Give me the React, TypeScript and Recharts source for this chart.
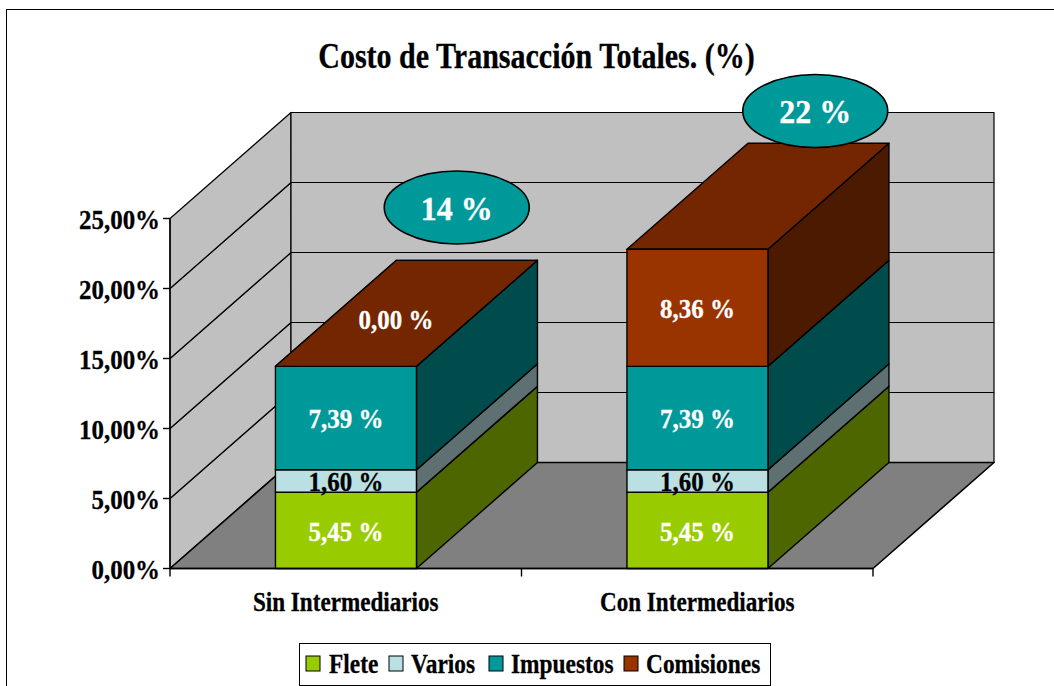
import { BarChart, Bar, XAxis, YAxis, Legend, LabelList, ReferenceArea, ReferenceDot } from "recharts";

const categories = ["Sin Intermediarios", "Con Intermediarios"];
const flete = [5.45, 5.45];
const varios = [1.6, 1.6];
const impuestos = [7.39, 7.39];
const comisiones = [0, 8.36];
const totals = [14, 22];
const yTicks = [0, 5, 10, 15, 20, 25];

const data = categories.map((name, i) => ({
  name,
  Flete: flete[i],
  Varios: varios[i],
  Impuestos: impuestos[i],
  Comisiones: comisiones[i],
}));

const FONT = '"Liberation Serif", "Times New Roman", serif';
// depth of the fake 3D box
const DX = 121;
const DY = 106;

const bubbleOffset: Record<string, { dx: number; dy: number }> = {
  "Sin Intermediarios": { dx: 111, dy: -165 },
  "Con Intermediarios": { dx: 118, dy: -149.5 },
};

// swatch and text x inside the legend box
const legendSlots = [
  { swatch: 7, text: 30 },
  { swatch: 90, text: 112 },
  { swatch: 190, text: 212 },
  { swatch: 325, text: 347 },
];

const fmt = (v: number) => v.toFixed(2).replace(".", ",");

// the reference uses a tall, condensed Times, so squeeze the text horizontally
function Narrow(props: any) {
  const { x, y, size, sx, anchor = "middle", fill = "#000", central, children } = props;
  return (
    <text
      transform={`translate(${x} ${y}) scale(${sx} 1)`}
      fill={fill}
      stroke={fill}
      strokeWidth={0.3}
      textAnchor={anchor}
      dominantBaseline={central ? "central" : undefined}
      fontFamily={FONT}
      fontWeight="bold"
      fontSize={size}
    >
      {children}
    </text>
  );
}

function Box3D(props: any) {
  const { x, y, width: w, height: h, fill, side, top } = props;
  return (
    <g stroke="#000" strokeWidth={1.4} strokeLinejoin="round">
      <polygon points={`${x + w},${y} ${x + w + DX},${y - DY} ${x + w + DX},${y + h - DY} ${x + w},${y + h}`} fill={side} />
      <polygon points={`${x},${y} ${x + DX},${y - DY} ${x + w + DX},${y - DY} ${x + w},${y}`} fill={top} />
      <rect x={x} y={y} width={w} height={h} fill={fill} />
    </g>
  );
}

// one 5% band of the side wall and back wall, its outline makes the grid lines
function WallBand(props: any) {
  const { x, y, width: w, height: h } = props;
  const b = y + h;
  return (
    <g stroke="#000" strokeWidth={1.2} strokeLinejoin="round" fill="#C0C0C0">
      <polygon points={`${x},${y} ${x + DX},${y - DY} ${x + DX},${b - DY} ${x},${b}`} />
      <rect x={x + DX} y={y - DY} width={w} height={h} />
    </g>
  );
}

function Floor(props: any) {
  const { x, y, width: w, height: h } = props;
  const b = y + h;
  return (
    <g stroke="#000" strokeLinejoin="round">
      <polygon points={`${x},${b} ${x + DX},${b - DY} ${x + w + DX},${b - DY} ${x + w},${b}`} fill="#808080" strokeWidth={1.6} />
      <line x1={x} y1={b} x2={x} y2={b + 8} strokeWidth={1.4} />
      <line x1={x + w / 2} y1={b} x2={x + w / 2} y2={b + 8} strokeWidth={1.4} />
      <line x1={x + w} y1={b} x2={x + w} y2={b + 8} strokeWidth={1.4} />
    </g>
  );
}

function ValueLabel(props: any) {
  const { x, y, width, height, value, color } = props;
  // a zero segment has no front face, its label sits on the top face
  const cx = value === 0 ? x + width / 2 + 50 : x + width / 2;
  const cy = value === 0 ? y - 46 : y + height / 2 + 1.5;
  return (
    <Narrow x={cx} y={cy} size={27} sx={0.925} fill={color} central>
      {fmt(value)} %
    </Narrow>
  );
}

function Bubble(props: any) {
  const { cx, cy, label, category } = props;
  const o = bubbleOffset[category];
  return (
    <g>
      <ellipse cx={cx + o.dx} cy={cy + o.dy} rx={72.5} ry={36.5} fill="#009999" stroke="#000" strokeWidth={1.6} />
      <Narrow x={cx + o.dx} y={cy + o.dy + 1} size={33} sx={0.97} fill="#fff" central>
        {label} %
      </Narrow>
    </g>
  );
}

function YTick(props: any) {
  const { x, y, payload } = props;
  return (
    <Narrow x={x} y={y + 10} size={28} sx={0.89} anchor="end">
      {fmt(payload.value)}%
    </Narrow>
  );
}

function XTick(props: any) {
  const { x, y, payload } = props;
  return (
    <Narrow x={x} y={y + 34} size={27} sx={0.857}>
      {payload.value}
    </Narrow>
  );
}

function LegendBox(props: any) {
  return (
    <svg width={472} height={43} style={{ display: "block" }}>
      <rect x={0.5} y={0.5} width={471} height={42} fill="#fff" stroke="#000" />
      {props.payload.map((p: any, i: number) => (
        <g key={p.value}>
          <rect x={legendSlots[i].swatch} y={13} width={14} height={15} fill={p.color} stroke="#000" />
          <Narrow x={legendSlots[i].text} y={30} size={28} sx={0.835} anchor="start">
            {p.value}
          </Narrow>
        </g>
      ))}
    </svg>
  );
}

export default function App() {
  return (
    <div style={{ position: "absolute", left: 0, top: 0, width: 1054, height: 686, overflow: "hidden", background: "#fff" }}>
      <div style={{ position: "absolute", left: 6, top: 9, width: 1100, height: 800, border: "1.5px solid #000" }} />
      <BarChart
        width={1054}
        height={686}
        data={data}
        margin={{ top: 218.5, right: 181, bottom: 0, left: 0 }}
        barCategoryGap="30%"
        style={{ position: "absolute", left: 0, top: 0 }}
      >
        <Narrow x={536.5} y={68} size={36} sx={0.834}>
          Costo de Transacción Totales. (%)
        </Narrow>
        {yTicks.slice(1).map((t, i) => (
          <ReferenceArea key={t} y1={yTicks[i]} y2={t} ifOverflow="visible" shape={<WallBand />} />
        ))}
        <ReferenceArea y1={0} y2={25} ifOverflow="visible" shape={<Floor />} />
        <XAxis
          dataKey="name"
          height={117.5}
          tickLine={false}
          axisLine={{ stroke: "#000", strokeWidth: 1.4 }}
          tick={<XTick />}
          interval={0}
        />
        <YAxis
          width={170}
          domain={[0, 25]}
          ticks={yTicks}
          tickSize={7}
          tickMargin={3}
          axisLine={{ stroke: "#000", strokeWidth: 1.4 }}
          tickLine={{ stroke: "#000", strokeWidth: 1.4 }}
          tick={<YTick />}
        />
        <Bar dataKey="Flete" stackId="a" fill="#99CC00" isAnimationActive={false} shape={<Box3D side="#4D6600" top="#739900" />}>
          <LabelList dataKey="Flete" content={<ValueLabel color="#fff" />} />
        </Bar>
        <Bar dataKey="Varios" stackId="a" fill="#BBE0E3" isAnimationActive={false} shape={<Box3D side="#5E7071" top="#8CA8AA" />}>
          <LabelList dataKey="Varios" content={<ValueLabel color="#000" />} />
        </Bar>
        <Bar dataKey="Impuestos" stackId="a" fill="#009999" isAnimationActive={false} shape={<Box3D side="#004C4C" top="#007373" />}>
          <LabelList dataKey="Impuestos" content={<ValueLabel color="#fff" />} />
        </Bar>
        <Bar dataKey="Comisiones" stackId="a" fill="#993300" isAnimationActive={false} shape={<Box3D side="#4C1A00" top="#732600" />}>
          <LabelList dataKey="Comisiones" content={<ValueLabel color="#fff" />} />
        </Bar>
        {categories.map((c, i) => (
          <ReferenceDot key={c} x={c} y={totals[i]} ifOverflow="visible" shape={<Bubble label={totals[i]} category={c} />} />
        ))}
        <Legend
          layout="horizontal"
          verticalAlign="middle"
          itemSorter={null}
          wrapperStyle={{ left: 299, top: 643, width: 472, height: 43, bottom: "auto" }}
          content={<LegendBox />}
        />
      </BarChart>
    </div>
  );
}
